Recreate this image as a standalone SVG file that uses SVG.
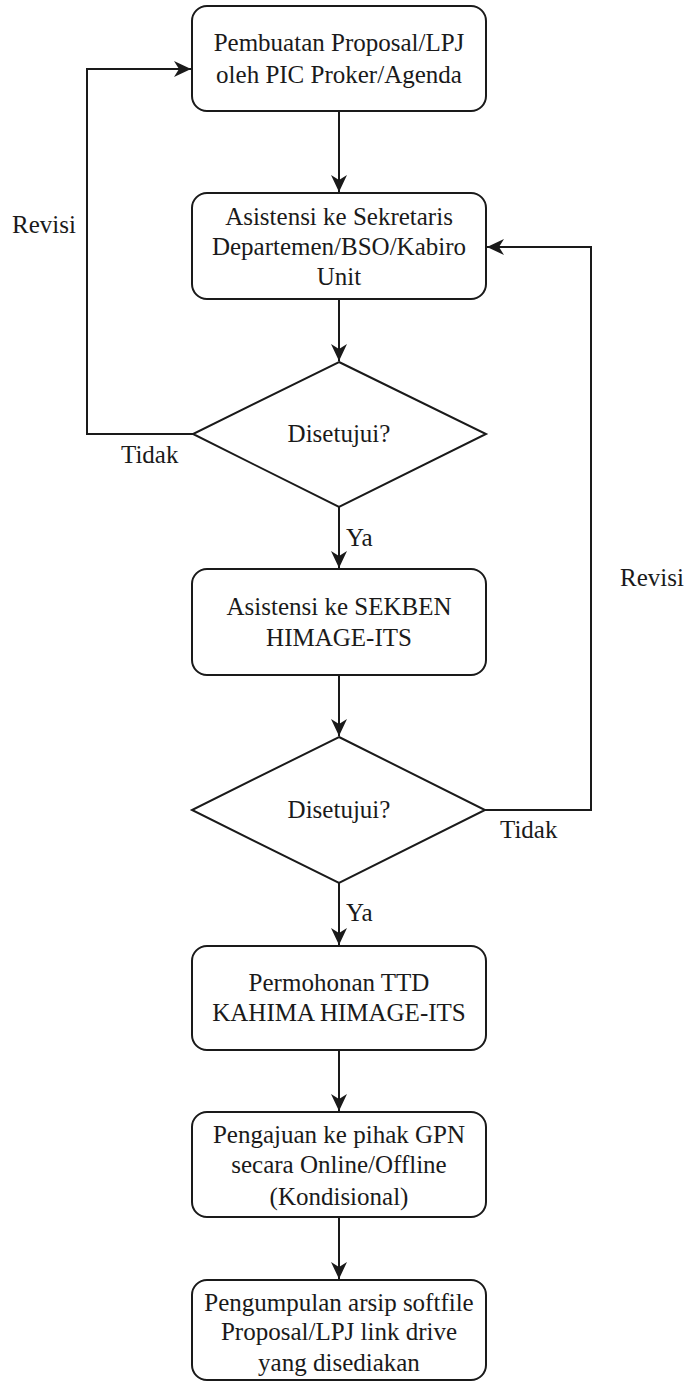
<svg xmlns="http://www.w3.org/2000/svg" width="684" height="1382" viewBox="0 0 684 1382">
<style>
.box{fill:#ffffff;stroke:#1a1a1a;stroke-width:2}
.t{font-family:"Liberation Serif","Times New Roman",serif;font-size:25px;fill:#1a1a1a;text-anchor:middle}
.l{font-family:"Liberation Serif","Times New Roman",serif;font-size:25px;fill:#1a1a1a}
.c{fill:none;stroke:#1a1a1a;stroke-width:2;marker-end:url(#arr)}
</style>
<defs>
<marker id="arr" viewBox="-18 -9 19 18" refX="0" refY="0" markerWidth="19" markerHeight="18" markerUnits="userSpaceOnUse" orient="auto">
<path d="M0,0 L-17,-8 L-12,0 L-17,8 Z" fill="#1a1a1a"/>
</marker>
</defs>
<rect width="684" height="1382" fill="#ffffff"/>
<g id="connectors">
<path class="c" d="M339,111 V192"/>
<path class="c" d="M339,299 V361"/>
<path class="c" d="M193,434 H87 V69 H191"/>
<path class="c" d="M339,507 V568"/>
<path class="c" d="M339,675 V736"/>
<path class="c" d="M485,810 H591 V247 H487"/>
<path class="c" d="M339,883 V945"/>
<path class="c" d="M339,1050 V1111"/>
<path class="c" d="M339,1217 V1279"/>
</g>
<g id="labels">
<text class="l" x="12" y="233">Revisi</text>
<text class="l" x="121" y="463">Tidak</text>
<text class="l" x="346" y="546">Ya</text>
<text class="l" x="620" y="586">Revisi</text>
<text class="l" x="500" y="838">Tidak</text>
<text class="l" x="346" y="921">Ya</text>
</g>
<g id="n1">
<rect class="box" x="192" y="6" width="294" height="105" rx="15"/>
<text class="t" x="339" y="51">Pembuatan Proposal/LPJ</text>
<text class="t" x="339" y="83">oleh PIC Proker/Agenda</text>
</g>
<g id="n2">
<rect class="box" x="192" y="193" width="294" height="106" rx="15"/>
<text class="t" x="339" y="225">Asistensi ke Sekretaris</text>
<text class="t" x="339" y="255">Departemen/BSO/Kabiro</text>
<text class="t" x="339" y="285">Unit</text>
</g>
<g id="d1">
<polygon class="box" points="339,362 486,434 339,507 193,434"/>
<text class="t" x="339" y="442">Disetujui?</text>
</g>
<g id="n3">
<rect class="box" x="192" y="569" width="294" height="106" rx="15"/>
<text class="t" x="339" y="615">Asistensi ke SEKBEN</text>
<text class="t" x="339" y="646">HIMAGE-ITS</text>
</g>
<g id="d2">
<polygon class="box" points="339,737 485,810 339,883 192,810"/>
<text class="t" x="339" y="818">Disetujui?</text>
</g>
<g id="n4">
<rect class="box" x="192" y="946" width="294" height="104" rx="15"/>
<text class="t" x="339" y="991">Permohonan TTD</text>
<text class="t" x="339" y="1021">KAHIMA HIMAGE-ITS</text>
</g>
<g id="n5">
<rect class="box" x="192" y="1112" width="294" height="105" rx="15"/>
<text class="t" x="339" y="1143">Pengajuan ke pihak GPN</text>
<text class="t" x="339" y="1173">secara Online/Offline</text>
<text class="t" x="339" y="1205">(Kondisional)</text>
</g>
<g id="n6">
<rect class="box" x="192" y="1280" width="294" height="100" rx="15"/>
<text class="t" x="339" y="1311">Pengumpulan arsip softfile</text>
<text class="t" x="339" y="1340">Proposal/LPJ link drive</text>
<text class="t" x="339" y="1371">yang disediakan</text>
</g>
</svg>
